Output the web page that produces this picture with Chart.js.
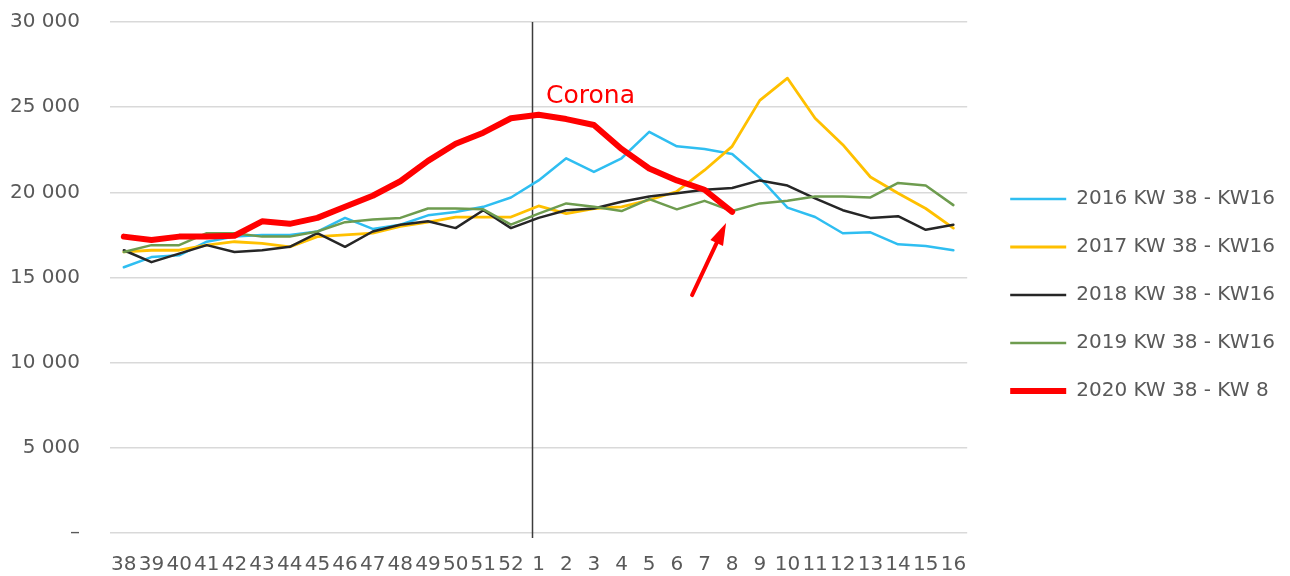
<!DOCTYPE html>
<html>
<head>
<meta charset="utf-8">
<script src="https://cdn.jsdelivr.net/npm/chart.js@4.4.1/dist/chart.umd.min.js"></script>
<style>
  html, body { margin: 0; padding: 0; background: #ffffff; }
  #wrap { width: 1290px; height: 576px; }
</style>
</head>
<body>
<div id="wrap"><canvas id="c" width="1290" height="576"></canvas></div>
<script>
// ---- data ----
const categories = ['38','39','40','41','42','43','44','45','46','47','48','49','50','51','52',
                    '1','2','3','4','5','6','7','8','9','10','11','12','13','14','15','16'];

const seriesLabels = ['2016 KW 38 - KW16','2017 KW 38 - KW16','2018 KW 38 - KW16','2019 KW 38 - KW16','2020 KW 38 - KW 8'];

const values2016 = [15600,16200,16300,17100,17400,17500,17500,17700,18500,17850,18100,18650,18850,19150,19700,
                    20700,22000,21200,22000,23550,22700,22550,22250,20850,19100,18550,17600,17650,16950,16850,16600];
const values2017 = [16500,16600,16600,16900,17100,17000,16800,17400,17500,17600,18000,18250,18550,18550,18550,
                    19200,18750,19050,19150,19550,20050,21300,22700,25400,26700,24350,22800,20900,19950,19050,17900];
const values2018 = [16600,15900,16400,16900,16500,16600,16800,17600,16800,17700,18100,18300,17900,18950,17900,
                    18500,18950,19050,19450,19750,19950,20150,20250,20700,20400,19650,18950,18500,18600,17800,18100];
const values2019 = [16500,16900,16900,17600,17600,17400,17400,17700,18250,18400,18500,19050,19050,19000,18100,
                    18750,19350,19150,18900,19600,19000,19500,18900,19350,19500,19750,19750,19700,20550,20400,19250];
const values2020 = [17400,17200,17400,17400,17450,18300,18150,18500,19150,19800,20650,21850,22850,23500,24350,
                    24550,24300,23950,22550,21400,20700,20150,18850,null,null,null,null,null,null,null,null];

const yTicks = [0, 5000, 10000, 15000, 20000, 25000, 30000];

// annotation anchors (data space)
const coronaLabel = { text: 'Corona', x: 15.27, y: 25240 };
const arrowAnno = { fromX: 20.55, fromY: 13970, toX: 21.78, toY: 18200 };
const dividerIndex = 15;

// ---- styles ----
const colors = ['#2FBEF1', '#FFC000', '#262626', '#6E9C4F', '#FF0000'];
const widths = [2.5, 2.8, 2.5, 2.5, 6];
const drawOrder = [5, 4, 3, 2, 1];
const FONT = 'DejaVu Sans';
const TEXT = '#595959';

const allValues = [values2016, values2017, values2018, values2019, values2020];

const overlay = {
  id: 'overlay',
  beforeDatasetsDraw(chart) {
    const {ctx, scales: {x, y}} = chart;
    const step = x.getPixelForValue(1) - x.getPixelForValue(0);
    const px = Math.round(x.getPixelForValue(dividerIndex) - step * 0.23) + 0.5;
    ctx.save();
    ctx.strokeStyle = '#3c3c3c';
    ctx.lineWidth = 1.5;
    ctx.beginPath();
    ctx.moveTo(px, y.getPixelForValue(30000));
    ctx.lineTo(px, y.getPixelForValue(0) + 5);
    ctx.stroke();
    ctx.restore();
  },
  afterDatasetsDraw(chart) {
    const {ctx, scales: {x, y}} = chart;
    ctx.save();
    // Corona label
    ctx.font = '25px "' + FONT + '"';
    ctx.fillStyle = '#FF0000';
    ctx.textAlign = 'left';
    ctx.textBaseline = 'alphabetic';
    ctx.fillText(coronaLabel.text, x.getPixelForValue(coronaLabel.x), y.getPixelForValue(coronaLabel.y));
    // arrow
    const x1 = x.getPixelForValue(arrowAnno.fromX), y1 = y.getPixelForValue(arrowAnno.fromY);
    const x2 = x.getPixelForValue(arrowAnno.toX), y2 = y.getPixelForValue(arrowAnno.toY);
    const ang = Math.atan2(y2 - y1, x2 - x1);
    const headLen = 22, headHalf = 7;
    const bx = x2 - headLen * Math.cos(ang), by = y2 - headLen * Math.sin(ang);
    ctx.strokeStyle = '#FF0000';
    ctx.fillStyle = '#FF0000';
    ctx.lineWidth = 4;
    ctx.lineCap = 'round';
    ctx.beginPath();
    ctx.moveTo(x1, y1);
    ctx.lineTo(bx, by);
    ctx.stroke();
    ctx.beginPath();
    ctx.moveTo(x2, y2);
    ctx.lineTo(bx + headHalf * Math.sin(ang), by - headHalf * Math.cos(ang));
    ctx.lineTo(bx - headHalf * Math.sin(ang), by + headHalf * Math.cos(ang));
    ctx.closePath();
    ctx.fill();
    ctx.restore();
  }
};

new Chart(document.getElementById('c'), {
  type: 'line',
  data: {
    labels: categories,
    datasets: seriesLabels.map((lab, i) => ({
      label: lab,
      data: allValues[i],
      borderColor: colors[i],
      backgroundColor: colors[i],
      borderWidth: widths[i],
      pointRadius: 0,
      pointHoverRadius: 0,
      tension: 0,
      fill: false,
      order: drawOrder[i],
      borderJoinStyle: 'round',
      borderCapStyle: 'round'
    }))
  },
  options: {
    responsive: false,
    animation: false,
    events: [],
    layout: { padding: { top: 2, right: 5, bottom: 0, left: 0 } },
    plugins: {
      tooltip: { enabled: false },
      legend: {
        position: 'right',
        align: 'center',
        maxWidth: 340,
        title: { display: true, text: '', padding: 0, font: { size: 10 } },
        labels: {
          usePointStyle: true,
          pointStyle: 'line',
          pointStyleWidth: 56,
          boxHeight: 20,
          padding: 28,
          color: TEXT,
          font: { family: FONT, size: 20 },
          sort: (a, b) => a.datasetIndex - b.datasetIndex
        }
      }
    },
    scales: {
      x: {
        offset: true,
        grid: { display: false, drawTicks: false },
        border: { display: false },
        ticks: {
          autoSkip: false,
          maxRotation: 0,
          minRotation: 0,
          padding: 20,
          color: TEXT,
          font: { family: FONT, size: 20 }
        },
        afterFit: s => { s.height = 43; }
      },
      y: {
        min: 0,
        max: 30000,
        afterBuildTicks: s => { s.ticks = yTicks.map(v => ({ value: v })); },
        grid: { color: '#d9d9d9', lineWidth: 1.5, drawTicks: false },
        border: { display: false },
        ticks: {
          padding: 30,
          color: TEXT,
          font: { family: FONT, size: 20 },
          callback: v => v === 0 ? '–' : String(v).replace(/\B(?=(\d{3})+(?!\d))/g, ' ')
        },
        afterFit: s => { s.width = 110; s.paddingTop = 22; s.paddingBottom = 0; }
      },
      spacer: {
        position: 'right',
        display: true,
        grid: { display: false, drawTicks: false },
        border: { display: false },
        ticks: { display: false },
        afterFit: s => { s.width = 15; }
      }
    }
  },
  plugins: [overlay]
});
</script>
</body>
</html>
